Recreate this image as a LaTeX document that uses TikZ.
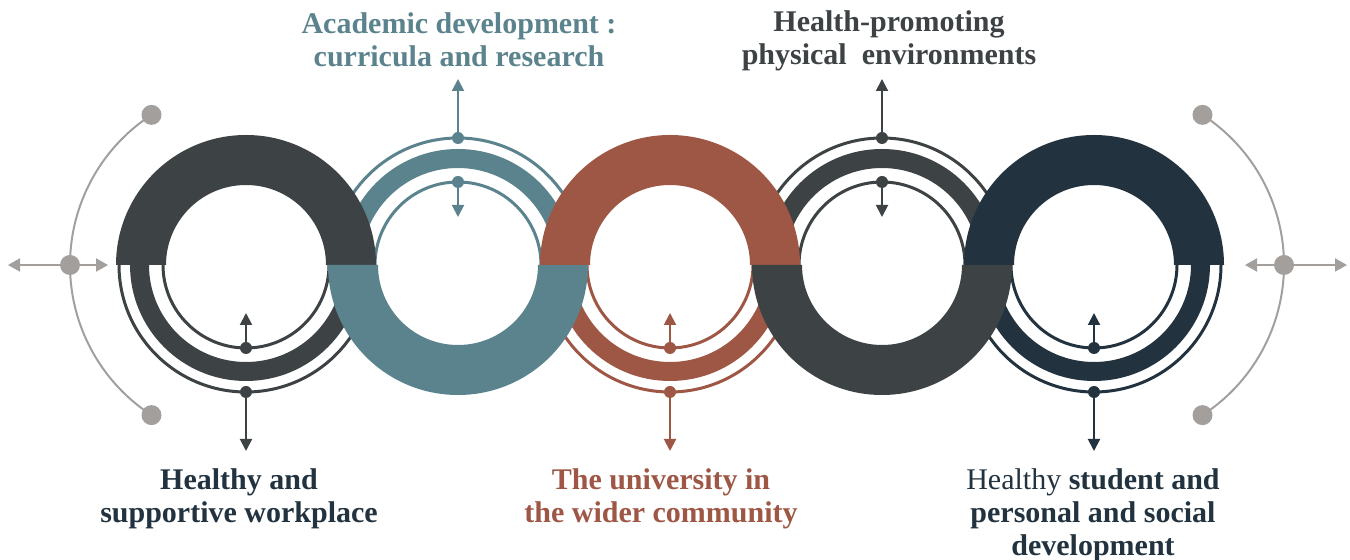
\documentclass[tikz,border=0pt]{standalone}
\usepackage{fontspec}
\setmainfont{Liberation Serif}
\usepackage{tikz}
\usetikzlibrary{arrows.meta, calc}
\definecolor{ringgray}{RGB}{61,66,69}
\definecolor{ringteal}{RGB}{91,131,141}
\definecolor{ringrust}{RGB}{158,87,69}
\definecolor{ringnavy}{RGB}{34,51,63}
\definecolor{sidegray}{RGB}{162,159,156}
\tikzset{
    x=0.5pt, y=0.5pt, % one unit is one pixel of the layout
    ringline/.style={line width=1.5pt},
    tip/.style={-{Triangle[length=6pt,width=6pt]}, line width=1pt},
    sidetip/.style={-{Triangle[length=6pt,width=6.5pt]}, line width=1pt, sidegray},
    sidedot/.style={circle, fill=sidegray, inner sep=0pt, minimum size=10pt},
    ringtext/.style={font=\bfseries\fontsize{15}{16.5}\selectfont, align=center},
}

\begin{document}
\begin{tikzpicture}
            \useasboundingbox (0,0) rectangle (1350,-560);
            % ring centres, colour, start angle of the striped half, start angle of the solid half
            \foreach \n/\cx/\col/\la/\fa in {1/246/ringgray/180/0, 2/458/ringteal/0/180,
                    3/670/ringrust/180/0, 4/882/ringgray/0/180, 5/1094/ringnavy/180/0}{
                \coordinate (ring\n) at (\cx,-265);
                \coordinate (ring\n-out) at ([shift={(\la+90:127)}]ring\n);
                \coordinate (ring\n-in)  at ([shift={(\la+90:83)}]ring\n);
                \coordinate (ring\n-outend) at ([shift={(\la+90:186)}]ring\n);
                \coordinate (ring\n-inend)  at ([shift={(\la+90:48)}]ring\n);
                \draw[ringline,\col]
                    ([shift={(\la:127)}]ring\n) arc[start angle=\la, delta angle=180, radius=127]
                    ([shift={(\la:83)}]ring\n) arc[start angle=\la, delta angle=180, radius=83];
                \fill[\col]
                    ([shift={(\la:116)}]ring\n) arc[start angle=\la, delta angle=180, radius=116]
                    -- ([shift={(\la+180:97)}]ring\n) arc[start angle=\la+180, delta angle=-180, radius=97]
                    -- cycle;
            }
            \foreach \n/\col/\fa in {1/ringgray/0, 2/ringteal/180, 3/ringrust/0,
                    4/ringgray/180, 5/ringnavy/0}{
                \fill[\col]
                    ([shift={(\fa:130)}]ring\n) arc[start angle=\fa, delta angle=180, radius=130]
                    -- ([shift={(\fa+180:80)}]ring\n) arc[start angle=\fa+180, delta angle=-180, radius=80]
                    -- cycle;
                \fill[\col] (ring\n-out) circle[radius=6] (ring\n-in) circle[radius=6];
                \draw[tip,\col] (ring\n-out) -- (ring\n-outend);
                \draw[tip,\col] (ring\n-in) -- (ring\n-inend);
            }

            % side brackets
            \coordinate (lside) at (249,-265);
            \coordinate (rside) at (1105,-265);
            \draw[line width=1pt, sidegray]
                ([shift={(123:179)}]lside) arc[start angle=123, end angle=237, radius=179]
                ([shift={(-57:179)}]rside) arc[start angle=-57, end angle=57, radius=179];
            \node[sidedot] (ltop) at ([shift={(123:179)}]lside) {};
            \node[sidedot] (lbot) at ([shift={(237:179)}]lside) {};
            \node[sidedot] (lmid) at (70,-265) {};
            \node[sidedot] (rtop) at ([shift={(57:179)}]rside) {};
            \node[sidedot] (rbot) at ([shift={(-57:179)}]rside) {};
            \node[sidedot] (rmid) at (1284,-265) {};
            \coordinate (lleft)  at (8,-265);
            \coordinate (lright) at (108,-265);
            \coordinate (rleft)  at (1245,-265);
            \coordinate (rright) at (1347,-265);
            \draw[sidetip] (lmid) -- (lleft);
            \draw[sidetip] (lmid) -- (lright);
            \draw[sidetip] (rmid) -- (rleft);
            \draw[sidetip] (rmid) -- (rright);

            \node[ringtext, ringteal] (acad) at (459,-40)  {Academic development :\\curricula and research};
            \node[ringtext, ringgray] (phys) at (889,-41)  {Health-promoting\\physical\ \ environments};
            \node[ringtext, ringnavy] (work) at (239,-499) {Healthy and\\supportive workplace};
            \node[ringtext, ringrust] (comm) at (661,-499) {The university in\\the wider community};
            \node[ringtext, ringnavy] (stud) at (1093,-515) {{\mdseries Healthy} student and\\personal and social\\development};
\end{tikzpicture}
\end{document}
